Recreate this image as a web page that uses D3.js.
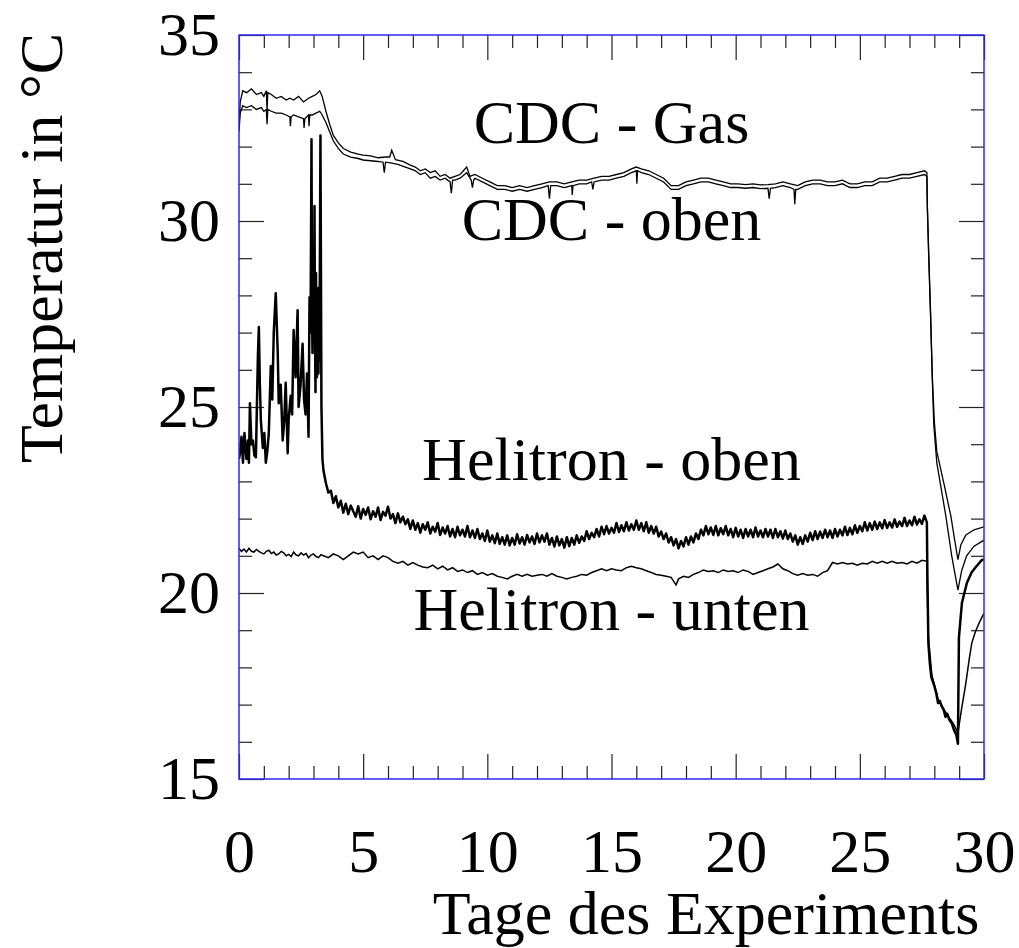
<!DOCTYPE html>
<html>
<head>
<meta charset="utf-8">
<script src="https://cdn.jsdelivr.net/npm/d3@7"></script>
<style>
  body { margin: 0; background: #fff; }
  svg text { font-family: "Liberation Serif", "Times New Roman", serif; fill: #000; }
</style>
</head>
<body>
<svg id="chart" width="1019" height="948"></svg>
<script>
// ---- data: [day, temperature in °C] ----
var cdcGas = [
  [0.0,32.6],[0.05,33.2],[0.15,33.5],[0.3,33.45],[0.5,33.55],[0.7,33.4],[0.9,33.45],[1.0,33.35],[1.1,33.5],
  [1.13,33.0],[1.16,33.45],[1.3,33.4],[1.5,33.3],[1.7,33.35],[1.9,33.25],[2.05,33.3],[2.2,33.25],[2.4,33.35],
  [2.6,33.2],[2.8,33.3],[2.95,33.35],[3.1,33.4],[3.25,33.5],[3.35,33.35],[3.5,32.95],[3.65,32.6],[3.8,32.3],
  [4.0,32.1],[4.2,31.95],[4.5,31.85],[4.8,31.8],[5.0,31.77],[5.3,31.75],[5.6,31.7],[5.9,31.72],[6.07,31.72],
  [6.15,31.9],[6.3,31.65],[6.6,31.6],[6.9,31.5],[7.1,31.45],[7.3,31.35],[7.5,31.4],[7.7,31.3],[7.9,31.35],
  [8.1,31.2],[8.3,31.25],[8.5,31.15],[8.7,31.2],[8.9,31.25],[9.17,31.45],[9.3,31.2],[9.5,31.25],[9.8,31.15],
  [10.1,31.05],[10.4,30.95],[10.7,30.95],[11.0,30.9],[11.3,30.95],[11.6,30.9],[11.9,30.95],[12.2,31.0],
  [12.5,31.05],[12.8,31.05],[13.1,31.0],[13.4,31.05],[13.7,31.1],[14.0,31.1],[14.3,31.15],[14.6,31.2],
  [14.9,31.2],[15.2,31.25],[15.5,31.3],[15.8,31.4],[16.0,31.45],[16.2,31.4],[16.5,31.35],[16.8,31.25],
  [17.1,31.15],[17.4,30.95],[17.7,30.95],[18.0,31.05],[18.3,31.1],[18.6,31.15],[18.9,31.15],[19.2,31.1],
  [19.5,31.05],[19.8,31.0],[20.1,31.0],[20.4,30.98],[20.7,31.0],[21.0,30.97],[21.3,30.98],[21.6,31.0],
  [21.9,31.05],[22.2,31.0],[22.5,30.95],[22.8,31.05],[23.1,31.1],[23.4,31.1],[23.7,31.05],[24.0,31.05],
  [24.3,31.1],[24.6,31.0],[24.9,31.0],[25.2,31.05],[25.5,31.05],[25.8,31.15],[26.1,31.15],[26.4,31.2],
  [26.7,31.25],[27.0,31.25],[27.3,31.3],[27.6,31.35],[27.7,31.3],
  [27.72,30.4],[27.78,29.0],[27.85,27.5],[27.92,25.8],[28.0,24.6],[28.1,23.8],[28.4,22.9],[28.67,22.05],
  [28.8,21.5],[28.95,20.9],[29.07,21.3],[29.27,21.56],[29.6,21.7],[30.0,21.78]
];

var cdcOben = [
  [0.0,32.4],[0.05,32.9],[0.15,33.1],[0.3,33.05],[0.5,33.1],[0.7,33.0],[0.9,33.05],[1.0,32.95],[1.1,33.0],
  [1.13,32.6],[1.16,33.0],[1.3,32.95],[1.5,32.9],[1.7,32.9],[1.9,32.85],[2.05,32.8],[2.07,32.55],[2.1,32.8],
  [2.2,32.85],[2.4,32.8],[2.6,32.75],[2.62,32.5],[2.65,32.75],[2.8,32.85],[2.82,32.55],[2.85,32.85],
  [2.95,32.85],[3.1,32.9],[3.25,32.95],[3.35,32.85],[3.5,32.65],[3.65,32.4],[3.8,32.15],[4.0,31.95],
  [4.2,31.8],[4.5,31.72],[4.8,31.68],[5.0,31.64],[5.3,31.62],[5.6,31.6],[5.8,31.58],[5.85,31.3],[5.9,31.58],
  [6.1,31.56],[6.4,31.52],[6.7,31.45],[6.9,31.4],[7.1,31.35],[7.3,31.25],[7.5,31.3],[7.7,31.15],[7.9,31.2],
  [8.1,31.1],[8.3,31.15],[8.5,31.05],[8.55,30.75],[8.6,31.1],[8.7,31.1],[8.9,31.15],[9.17,31.3],[9.35,31.1],
  [9.4,30.9],[9.45,31.1],[9.5,31.15],[9.8,31.05],[10.1,30.95],[10.4,30.85],[10.7,30.85],[11.0,30.8],
  [11.3,30.85],[11.6,30.8],[11.9,30.85],[12.2,30.9],[12.45,30.95],[12.5,30.6],[12.55,30.95],[12.8,30.95],
  [13.1,30.9],[13.4,30.95],[13.42,30.7],[13.45,30.95],[13.7,31.0],[14.0,31.0],[14.2,31.05],[14.25,30.85],
  [14.3,31.05],[14.6,31.1],[14.9,31.1],[15.2,31.15],[15.5,31.2],[15.8,31.3],[16.0,31.35],[16.02,31.0],
  [16.05,31.35],[16.2,31.3],[16.5,31.25],[16.8,31.15],[17.1,31.05],[17.4,30.85],[17.7,30.85],[18.0,30.95],
  [18.3,31.0],[18.6,31.05],[18.9,31.05],[19.2,31.0],[19.5,30.95],[19.8,30.9],[20.1,30.9],[20.4,30.88],
  [20.7,30.9],[21.0,30.87],[21.3,30.88],[21.35,30.6],[21.4,30.88],[21.6,30.9],[21.9,30.95],[22.2,30.9],
  [22.35,30.85],[22.38,30.45],[22.42,30.85],[22.5,30.85],[22.8,30.95],[23.1,31.0],[23.4,31.0],[23.7,30.95],
  [24.0,30.95],[24.3,31.0],[24.6,30.9],[24.9,30.9],[25.2,30.95],[25.5,30.95],[25.8,31.05],[26.1,31.05],
  [26.4,31.1],[26.7,31.15],[27.0,31.15],[27.3,31.2],[27.6,31.25],[27.7,31.2],
  [27.72,30.3],[27.78,28.9],[27.85,27.4],[27.92,25.7],[27.98,24.5],[28.1,23.5],[28.47,22.04],[28.7,21.0],
  [28.95,20.08],[29.1,20.6],[29.3,21.0],[29.6,21.26],[30.0,21.42]
];

var heliOben = [
  [0.0,23.6],[0.04,23.76],[0.1,24.2],[0.16,23.5],[0.22,24.3],[0.3,23.6],[0.36,24.1],[0.4,23.5],[0.44,25.1],
  [0.5,24.0],[0.56,24.1],[0.62,23.7],[0.68,23.65],[0.76,26.35],[0.8,27.15],[0.84,25.6],[0.88,24.65],
  [0.96,23.9],[1.02,24.3],[1.08,23.5],[1.14,23.8],[1.2,24.3],[1.28,26.1],[1.34,25.2],[1.4,27.0],[1.48,28.06],
  [1.56,26.45],[1.6,25.1],[1.68,25.6],[1.76,24.1],[1.82,24.6],[1.88,25.65],[1.96,23.76],[2.0,24.65],
  [2.08,25.3],[2.14,24.8],[2.2,27.07],[2.28,25.8],[2.36,27.6],[2.4,25.0],[2.48,25.6],[2.56,26.7],[2.62,25.2],
  [2.68,24.8],[2.74,25.9],[2.8,24.2],[2.84,27.95],[2.88,27.0],[2.9,29.5],[2.92,32.2],[2.94,27.5],[2.96,26.45],
  [2.98,29.0],[3.0,28.2],[3.02,26.8],[3.04,30.4],[3.06,27.0],[3.08,25.4],[3.1,28.6],[3.12,27.2],[3.14,25.8],
  [3.16,26.6],[3.18,28.2],[3.2,25.9],[3.22,27.5],[3.24,26.25],[3.28,32.3],[3.32,25.0],[3.36,23.6],
  [3.4,23.3],[3.5,22.95],[3.6,22.7],[3.7,22.75],[3.8,22.42],[3.9,22.6],[4.0,22.3],[4.1,22.48],[4.2,22.16],
  [4.3,22.4],[4.4,22.12],[4.5,22.35],[4.6,22.2],[4.7,22.05],[4.8,22.33],[4.9,22.0],[5.0,22.26],[5.1,22.1],
  [5.2,22.3],[5.3,21.98],[5.4,22.2],[5.5,22.05],[5.6,22.3],[5.7,21.96],[5.8,22.18],[5.9,22.08],[6.0,22.32],
  [6.1,22.0],[6.2,22.12],[6.3,21.88],[6.4,22.14],[6.5,21.9],[6.6,22.05],[6.7,21.85],[6.8,21.98],[6.9,21.72],
  [7.0,21.95],[7.1,21.7],[7.2,21.88],[7.3,21.62],[7.4,21.85],[7.5,21.7],[7.6,21.9],[7.7,21.6],[7.8,21.78],
  [7.9,21.65],[8.0,21.88],[8.1,21.56],[8.2,21.76],[8.3,21.6],[8.4,21.8],[8.5,21.52],[8.6,21.72],[8.7,21.5],
  [8.8,21.78],[8.9,21.55],[9.0,21.7],[9.1,21.52],[9.2,21.8],[9.3,21.5],[9.4,21.68],[9.5,21.48],[9.6,21.72],
  [9.7,21.45],[9.8,21.6],[9.9,21.4],[10.0,21.68],[10.1,21.38],[10.2,21.55],[10.3,21.34],[10.4,21.6],
  [10.5,21.32],[10.6,21.5],[10.7,21.3],[10.8,21.55],[10.9,21.28],[11.0,21.48],[11.1,21.3],[11.2,21.58],
  [11.3,21.33],[11.4,21.5],[11.5,21.3],[11.6,21.56],[11.7,21.36],[11.8,21.52],[11.9,21.32],[12.0,21.6],
  [12.1,21.36],[12.2,21.55],[12.3,21.38],[12.4,21.6],[12.5,21.3],[12.6,21.48],[12.7,21.25],[12.8,21.52],
  [12.9,21.28],[13.0,21.45],[13.1,21.22],[13.2,21.5],[13.3,21.26],[13.4,21.48],[13.5,21.3],[13.6,21.55],
  [13.7,21.35],[13.8,21.52],[13.9,21.4],[14.0,21.66],[14.1,21.45],[14.2,21.62],[14.3,21.5],[14.4,21.72],
  [14.5,21.52],[14.6,21.78],[14.7,21.58],[14.8,21.8],[14.9,21.6],[15.0,21.75],[15.1,21.62],[15.2,21.88],
  [15.3,21.64],[15.4,21.82],[15.5,21.66],[15.6,21.9],[15.7,21.68],[15.8,21.85],[15.9,21.7],[16.0,21.95],
  [16.1,21.7],[16.2,21.88],[16.3,21.66],[16.4,21.9],[16.5,21.62],[16.6,21.8],[16.7,21.6],[16.8,21.78],
  [16.9,21.52],[17.0,21.65],[17.1,21.45],[17.2,21.6],[17.3,21.36],[17.4,21.5],[17.5,21.28],[17.6,21.45],
  [17.7,21.2],[17.8,21.4],[17.9,21.25],[18.0,21.5],[18.1,21.3],[18.2,21.52],[18.3,21.36],[18.4,21.6],
  [18.5,21.45],[18.6,21.7],[18.7,21.55],[18.8,21.8],[18.9,21.58],[19.0,21.76],[19.1,21.56],[19.2,21.8],
  [19.3,21.55],[19.4,21.74],[19.5,21.58],[19.6,21.8],[19.7,21.55],[19.8,21.72],[19.9,21.5],[20.0,21.75],
  [20.1,21.52],[20.2,21.7],[20.3,21.48],[20.4,21.72],[20.5,21.52],[20.6,21.7],[20.7,21.5],[20.8,21.76],
  [20.9,21.52],[21.0,21.68],[21.1,21.5],[21.2,21.72],[21.3,21.52],[21.4,21.7],[21.5,21.48],[21.6,21.72],
  [21.7,21.5],[21.8,21.66],[21.9,21.46],[22.0,21.68],[22.1,21.45],[22.2,21.6],[22.3,21.38],[22.4,21.55],
  [22.5,21.3],[22.6,21.5],[22.7,21.32],[22.8,21.55],[22.9,21.38],[23.0,21.62],[23.1,21.42],[23.2,21.66],
  [23.3,21.45],[23.4,21.65],[23.5,21.48],[23.6,21.7],[23.7,21.5],[23.8,21.68],[23.9,21.48],[24.0,21.72],
  [24.1,21.52],[24.2,21.7],[24.3,21.55],[24.4,21.78],[24.5,21.56],[24.6,21.75],[24.7,21.58],[24.8,21.82],
  [24.9,21.62],[25.0,21.8],[25.1,21.66],[25.2,21.9],[25.3,21.68],[25.4,21.88],[25.5,21.7],[25.6,21.92],
  [25.7,21.72],[25.8,21.9],[25.9,21.74],[26.0,21.96],[26.1,21.75],[26.2,21.9],[26.3,21.76],[26.4,21.98],
  [26.5,21.78],[26.6,21.92],[26.7,21.8],[26.8,22.02],[26.9,21.8],[27.0,21.95],[27.1,21.82],[27.2,22.05],
  [27.3,21.84],[27.4,21.98],[27.5,21.86],[27.6,22.08],[27.7,21.9],
  [27.72,20.5],[27.76,18.66],[27.82,18.1],[27.88,17.74],[27.95,17.6],[28.0,17.5],[28.08,17.3],[28.15,17.04],
  [28.22,17.1],[28.3,16.95],[28.38,16.85],[28.45,16.67],[28.52,16.75],[28.6,16.6],[28.7,16.5],[28.8,16.3],
  [28.88,16.2],[28.95,15.95],[28.99,18.8],[29.11,19.73],[29.31,20.27],[29.5,20.55],
  [29.67,20.7],[29.92,20.89],[30.0,20.9]
];

var heliUnten = [
  [0.0,21.2],[0.1,21.12],[0.2,21.18],[0.3,21.1],[0.4,21.2],[0.5,21.12],[0.6,21.1],[0.7,21.17],[0.8,21.12],
  [0.9,21.08],[1.0,21.05],[1.1,21.12],[1.2,21.15],[1.3,21.06],[1.4,21.1],[1.5,21.02],[1.6,21.05],[1.7,21.12],
  [1.8,21.08],[1.9,21.0],[2.0,21.04],[2.1,20.98],[2.2,21.1],[2.3,21.02],[2.4,21.0],[2.5,21.08],[2.6,21.02],
  [2.7,21.06],[2.8,20.95],[2.9,21.02],[3.0,21.05],[3.1,20.98],[3.2,20.95],[3.3,21.03],[3.4,21.0],
  [3.6,20.95],[3.8,21.05],[4.0,21.0],[4.2,20.9],[4.4,21.0],[4.6,21.1],[4.8,21.05],[5.0,21.1],[5.2,20.95],
  [5.4,21.0],[5.6,20.9],[5.8,21.0],[6.0,20.95],[6.2,20.85],[6.4,20.8],[6.6,20.85],[6.8,20.75],[7.0,20.82],
  [7.2,20.75],[7.4,20.7],[7.6,20.68],[7.8,20.75],[8.0,20.65],[8.2,20.72],[8.4,20.62],[8.6,20.68],[8.8,20.58],
  [9.0,20.62],[9.2,20.55],[9.4,20.6],[9.6,20.5],[9.8,20.55],[10.0,20.48],[10.2,20.52],[10.4,20.45],
  [10.6,20.42],[10.8,20.38],[11.0,20.45],[11.2,20.5],[11.4,20.45],[11.6,20.5],[11.8,20.45],[12.0,20.48],
  [12.2,20.5],[12.4,20.45],[12.6,20.52],[12.8,20.45],[13.0,20.42],[13.2,20.38],[13.4,20.42],[13.6,20.45],
  [13.8,20.5],[14.0,20.48],[14.2,20.55],[14.4,20.6],[14.6,20.65],[14.8,20.6],[15.0,20.65],[15.2,20.62],
  [15.4,20.6],[15.6,20.68],[15.8,20.72],[16.0,20.68],[16.2,20.65],[16.4,20.6],[16.6,20.55],[16.8,20.5],
  [17.0,20.48],[17.2,20.45],[17.4,20.42],[17.6,20.22],[17.7,20.38],[17.9,20.45],[18.1,20.42],[18.3,20.5],
  [18.5,20.55],[18.7,20.62],[18.9,20.58],[19.1,20.6],[19.3,20.55],[19.5,20.62],[19.7,20.58],[19.9,20.6],
  [20.1,20.55],[20.3,20.62],[20.5,20.58],[20.7,20.5],[20.9,20.55],[21.1,20.6],[21.3,20.65],[21.5,20.7],
  [21.7,20.78],[21.9,20.65],[22.1,20.6],[22.3,20.52],[22.5,20.48],[22.7,20.52],[22.9,20.48],[23.1,20.5],
  [23.3,20.45],[23.5,20.55],[23.7,20.6],[23.9,20.82],[24.1,20.78],[24.3,20.82],[24.5,20.78],[24.7,20.8],
  [24.9,20.75],[25.1,20.8],[25.3,20.78],[25.5,20.85],[25.7,20.8],[25.9,20.85],[26.1,20.8],[26.3,20.85],
  [26.5,20.8],[26.7,20.82],[26.9,20.78],[27.1,20.85],[27.3,20.8],[27.5,20.88],[27.7,20.85],
  [27.72,20.0],[27.76,18.8],[27.9,17.8],[28.15,17.15],[28.45,16.8],[28.8,16.45],[28.95,16.24],
  [29.1,16.9],[29.27,17.58],[29.4,18.2],[29.51,18.66],[29.65,18.95],[29.8,19.19],[29.92,19.35],[30.0,19.45]
];

var xMajor = [0, 5, 10, 15, 20, 25, 30];
var xMinor = [1,2,3,4,6,7,8,9,11,12,13,14,16,17,18,19,21,22,23,24,26,27,28,29];
var yMajor = [15, 20, 25, 30, 35];
var yMinor = [16,17,18,19,21,22,23,24,26,27,28,29,31,32,33,34];

var curveLabels = [
  { text: "CDC - Gas", day: 15.0, temp: 32.1 },
  { text: "CDC - oben", day: 15.0, temp: 29.5 },
  { text: "Helitron - oben", day: 15.0, temp: 23.05 },
  { text: "Helitron - unten", day: 15.0, temp: 19.0 }
];

// ---- layout ----
var plotLeft = 239, plotRight = 984, plotTop = 35, plotBottom = 779;
var svg = d3.select("#chart");

var x = d3.scaleLinear().domain([0, 30]).range([plotLeft, plotRight]);
var y = d3.scaleLinear().domain([15, 35]).range([plotBottom, plotTop]);

svg.append("clipPath").attr("id", "plotclip")
  .append("rect")
  .attr("x", plotLeft).attr("y", plotTop)
  .attr("width", plotRight - plotLeft).attr("height", plotBottom - plotTop);

function tickAxis(axis, g, values, size) {
  axis.tickValues(values).tickSize(size).tickFormat("");
  g.call(axis);
  g.select(".domain").remove();
  g.selectAll(".tick line").attr("stroke", "#222").attr("stroke-width", 1.2);
}

// minor / major ticks on all four sides, pointing inward
tickAxis(d3.axisBottom(x), svg.append("g").attr("transform", "translate(0," + plotBottom + ")"), xMinor, -13);
tickAxis(d3.axisBottom(x), svg.append("g").attr("transform", "translate(0," + plotBottom + ")"), xMajor, -25);
tickAxis(d3.axisTop(x), svg.append("g").attr("transform", "translate(0," + plotTop + ")"), xMinor, -13);
tickAxis(d3.axisTop(x), svg.append("g").attr("transform", "translate(0," + plotTop + ")"), xMajor, -25);
tickAxis(d3.axisLeft(y), svg.append("g").attr("transform", "translate(" + plotLeft + ",0)"), yMinor, -13);
tickAxis(d3.axisLeft(y), svg.append("g").attr("transform", "translate(" + plotLeft + ",0)"), yMajor, -25);
tickAxis(d3.axisRight(y), svg.append("g").attr("transform", "translate(" + plotRight + ",0)"), yMinor, -13);
tickAxis(d3.axisRight(y), svg.append("g").attr("transform", "translate(" + plotRight + ",0)"), yMajor, -25);

// tick labels
var xLab = svg.append("g").attr("transform", "translate(0," + plotBottom + ")")
  .call(d3.axisBottom(x).tickValues(xMajor).tickSize(0).tickPadding(49).tickFormat(d3.format("d")));
xLab.select(".domain").remove();
xLab.selectAll("text").style("font-size", "62px").style("font-family", "Liberation Serif, serif");

var yLab = svg.append("g").attr("transform", "translate(" + plotLeft + ",0)")
  .call(d3.axisLeft(y).tickValues(yMajor).tickSize(0).tickPadding(19).tickFormat(d3.format("d")));
yLab.select(".domain").remove();
yLab.selectAll("text").style("font-size", "62px").style("font-family", "Liberation Serif, serif");

// curves
var line = d3.line().x(d => x(d[0])).y(d => y(d[1]));
var plot = svg.append("g").attr("clip-path", "url(#plotclip)");

plot.append("path").datum(heliOben).attr("d", line)
  .attr("fill", "none").attr("stroke", "#000").attr("stroke-width", 2.5).attr("stroke-linejoin", "round");
plot.append("path").datum(heliUnten).attr("d", line)
  .attr("fill", "none").attr("stroke", "#000").attr("stroke-width", 1.5);
plot.append("path").datum(cdcGas).attr("d", line)
  .attr("fill", "none").attr("stroke", "#000").attr("stroke-width", 1.3);
plot.append("path").datum(cdcOben).attr("d", line)
  .attr("fill", "none").attr("stroke", "#000").attr("stroke-width", 1.3);

// frame
svg.append("rect")
  .attr("x", plotLeft).attr("y", plotTop)
  .attr("width", plotRight - plotLeft).attr("height", plotBottom - plotTop)
  .attr("fill", "none").attr("stroke", "#2b2bf0").attr("stroke-width", 1.5);

// curve labels
svg.selectAll("text.curve").data(curveLabels).enter().append("text")
  .attr("class", "curve")
  .attr("x", d => x(d.day)).attr("y", d => y(d.temp))
  .attr("text-anchor", "middle")
  .style("font-size", "62px")
  .text(d => d.text);

// axis titles
svg.append("text")
  .attr("x", 706).attr("y", 934)
  .attr("text-anchor", "middle")
  .style("font-size", "62px")
  .text("Tage des Experiments");

svg.append("text")
  .attr("transform", "translate(62,248) rotate(-90)")
  .attr("text-anchor", "middle")
  .style("font-size", "62px")
  .text("Temperatur in °C");
</script>
</body>
</html>
